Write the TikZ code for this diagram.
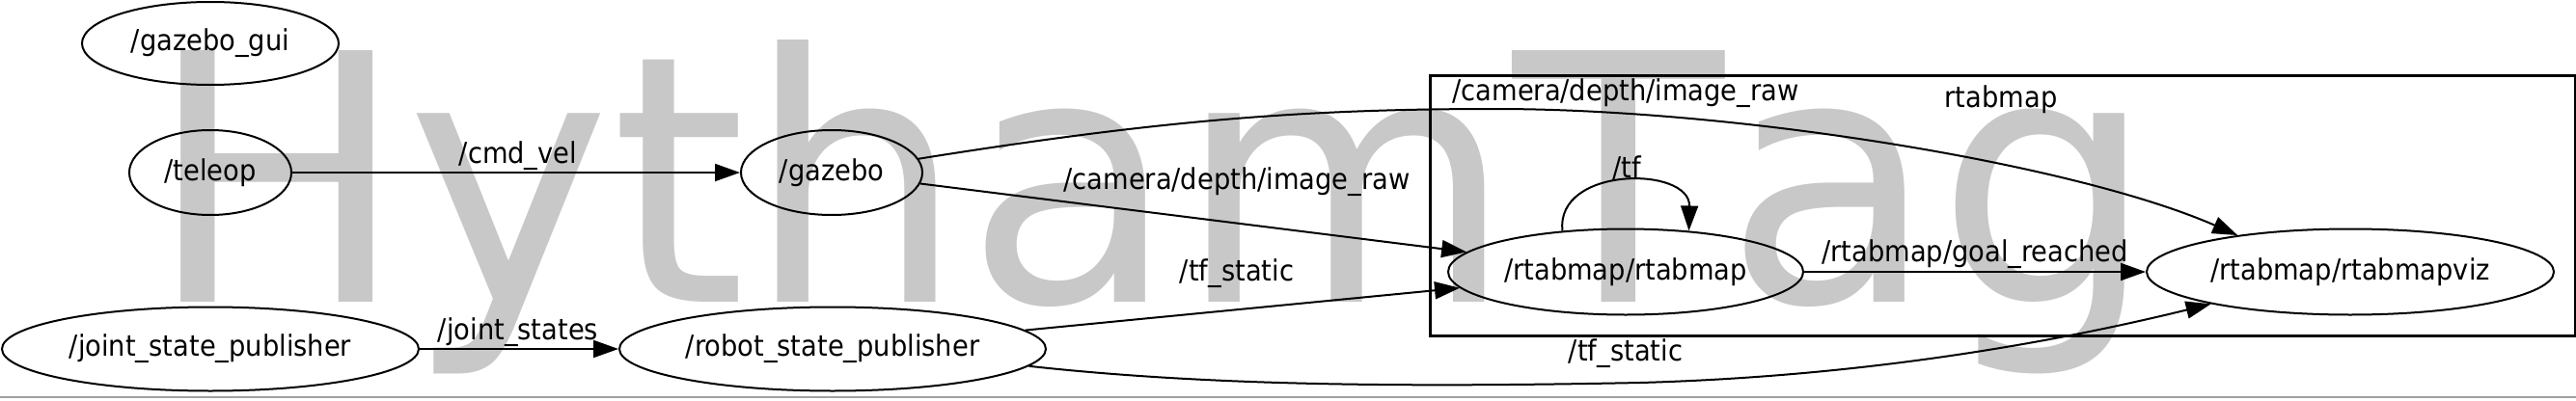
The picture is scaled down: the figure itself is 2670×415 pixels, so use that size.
\documentclass[tikz,border=0pt]{standalone}
\usepackage{fontspec}
\setmainfont{DejaVu Sans}[FakeStretch=0.91]
\newfontfamily\wmfont{DejaVu Sans}[Kerning=Off]
\usetikzlibrary{arrows.meta,shapes.geometric}
\definecolor{wmgray}{RGB}{200,200,200}
\definecolor{rulegray}{RGB}{160,160,160}
\newcommand{\lblsize}{\fontsize{30}{34}\selectfont}
\tikzset{
  rosnode/.style = {draw, ellipse, line width=2pt, inner sep=0pt, font=\lblsize},
  topic/.style   = {anchor=base, inner sep=0pt, font=\lblsize},
  cluster/.style = {draw, line width=2.5pt, anchor=north west, inner sep=0pt},
  arrow/.style   = {-{Triangle[length=26pt,width=18pt]}, line width=2pt},
}

\begin{document}
\begin{tikzpicture}[x=1pt, y=-1pt]
  \useasboundingbox (0,0) rectangle (2670,415);
  \node[anchor=base west, inner sep=0pt, text=wmgray,
        font=\wmfont\fontsize{358}{358}\selectfont] (wm) at (152,313) {HythamTag};
  \draw[line width=2.5pt, rulegray] (0,412) -- (2670,412);

  \node[rosnode, minimum width=266pt, minimum height=86pt] (gui)    at (218,45)  {/gazebo\_gui};
  \node[rosnode, minimum width=168pt, minimum height=88pt] (teleop) at (218,179) {/teleop};
  \node[rosnode, minimum width=188pt, minimum height=88pt] (gazebo) at (862,179) {/gazebo};
  \node[rosnode, minimum width=432pt, minimum height=87pt] (jsp)    at (218,362) {/joint\_state\_publisher};
  \node[rosnode, minimum width=442pt, minimum height=87pt] (rsp)    at (863,362) {/robot\_state\_publisher};
  \node[cluster, minimum width=1187pt, minimum height=270pt] (rtabbox) at (1481,77) {};
  \node[rosnode, minimum width=368pt, minimum height=89pt] (rtab)   at (1685,282) {/rtabmap/rtabmap};
  \node[rosnode, minimum width=422pt, minimum height=89pt] (viz)    at (2436,282) {/rtabmap/rtabmapviz};
  \node[topic] (boxname) at (2074,111) {rtabmap};

  \draw[arrow] (teleop) -- (gazebo);
  \draw[arrow] (jsp) -- (rsp);
  \draw[arrow] (gazebo) -- (rtab);
  \draw[arrow] (rsp) -- (rtab);
  \draw[arrow] (rtab) -- (viz);
  \draw[arrow] (rtab.147) .. controls (1612,172) and (1752,172) .. (rtab.33);
  \draw[arrow] (gazebo.9) .. controls (1200,125) and (1350,113) .. (1550,113)
                          .. controls (1800,113) and (2150,170) .. (viz.162);
  \draw[arrow] (rsp.-5) .. controls (1250,400) and (1450,402) .. (1700,397)
                        .. controls (1950,390) and (2150,350) .. (viz.193);

  \node[topic] (lcmd)    at (537,169)  {/cmd\_vel};
  \node[topic] (ljoint)  at (537,352)  {/joint\_states};
  \node[topic] (lcamlo)  at (1282,196) {/camera/depth/image\_raw};
  \node[topic] (lcamhi)  at (1685,104) {/camera/depth/image\_raw};
  \node[topic] (ltfhi)   at (1282,291) {/tf\_static};
  \node[topic] (ltflo)   at (1685,374) {/tf\_static};
  \node[topic] (ltf)     at (1686,184) {/tf};
  \node[topic] (lgoal)   at (2047,271) {/rtabmap/goal\_reached};
\end{tikzpicture}
\end{document}
